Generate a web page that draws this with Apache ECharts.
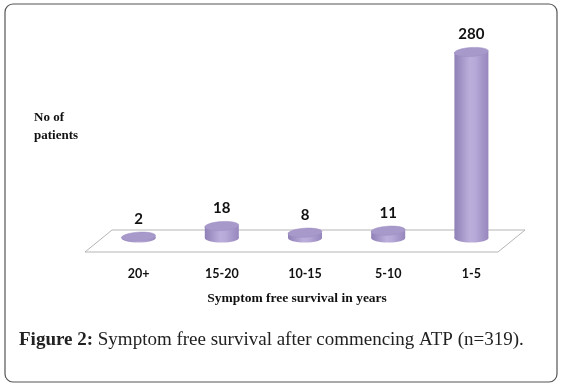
<!DOCTYPE html>
<html>
<head>
<meta charset="utf-8">
<script src="https://cdn.jsdelivr.net/npm/echarts@6/dist/echarts.min.js"></script>
<style>
  html, body { margin: 0; padding: 0; background: #fff; }
  #chart { width: 563px; height: 387px; }
</style>
</head>
<body>
<div id="chart"></div>
<script>
const categories = ['20+', '15-20', '10-15', '5-10', '1-5']
const patients = [2, 18, 8, 11, 280]

const chart = echarts.init(document.getElementById('chart'), null, { renderer: 'canvas' })

// cylinder body colours
const bodyFill = new echarts.graphic.LinearGradient(0, 0, 1, 0, [
    { offset: 0, color: '#8f80b6' },
    { offset: 0.45, color: '#bcaedb' },
    { offset: 0.6, color: '#b8aad8' },
    { offset: 1, color: '#9686bd' }
])

function renderCylinder(params, api) {
    const top = api.coord([api.value(0), api.value(1)])
    const base = api.coord([api.value(0), 0])
    const rx = 17
    const ry = 4.5
    const cx = top[0]
    return {
        type: 'group',
        children: [
            { type: 'ellipse', shape: { cx: cx, cy: base[1], rx: rx, ry: ry }, style: { fill: bodyFill } },
            { type: 'rect', shape: { x: cx - rx, y: top[1], width: rx * 2, height: base[1] - top[1] }, style: { fill: bodyFill } },
            { type: 'ellipse', shape: { cx: cx, cy: top[1], rx: rx, ry: ry }, rotation: 0.06, originX: cx, originY: top[1],
              style: { fill: '#a899cb', stroke: '#9d8dc2', lineWidth: 0.5 } },
            { type: 'text', style: { x: cx, y: top[1] - 18, text: String(api.value(1)), align: 'center', verticalAlign: 'middle',
              font: 'bold 15px Lato', fill: '#111' } }
        ]
    }
}

chart.setOption({
    backgroundColor: '#fff',
    animation: false,
    title: {
        left: 14,
        top: 326,
        text: '{b|Figure 2:} Symptom free survival after commencing ATP (n=319).',
        textStyle: {
            fontFamily: 'Liberation Serif',
            fontSize: 19,
            fontWeight: 'normal',
            color: '#222',
            rich: {
                b: { fontFamily: 'Liberation Serif', fontSize: 19, fontWeight: 'bold', color: '#222' }
            }
        }
    },
    graphic: [
        { type: 'rect', z: 0, shape: { x: 5, y: 4, width: 552, height: 378, r: 8 }, style: { fill: 'none', stroke: '#555', lineWidth: 1.2 } },
        { type: 'polygon', z: 0, shape: { points: [[112, 230], [525, 230], [498, 252], [85, 252]] },
          style: { fill: '#fff', stroke: '#b5b5b5', lineWidth: 1 } },
        { type: 'text', z: 1, left: 34, top: 109,
          style: { text: 'No of\npatients', font: 'bold 13px "Liberation Serif"', lineHeight: 18, fill: '#111' } }
    ],
    grid: { left: 97, right: 50, top: 52, bottom: 149 },
    xAxis: {
        type: 'category',
        data: categories,
        axisLine: { show: false },
        axisTick: { show: false },
        axisLabel: { margin: 29, fontFamily: 'Lato', fontWeight: 'bold', fontSize: 12.5, color: '#111' },
        name: 'Symptom free survival in years',
        nameLocation: 'middle',
        nameGap: 54,
        nameTextStyle: { fontFamily: 'Liberation Serif', fontWeight: 'bold', fontSize: 13.5, color: '#111', padding: [0, 16, 0, 0] }
    },
    yAxis: { type: 'value', min: 0, max: 280, show: false },
    series: [
        {
            type: 'custom',
            z: 5,
            renderItem: renderCylinder,
            encode: { x: 0, y: 1 },
            data: categories.map((c, i) => [i, patients[i]])
        }
    ]
})
</script>
</body>
</html>
